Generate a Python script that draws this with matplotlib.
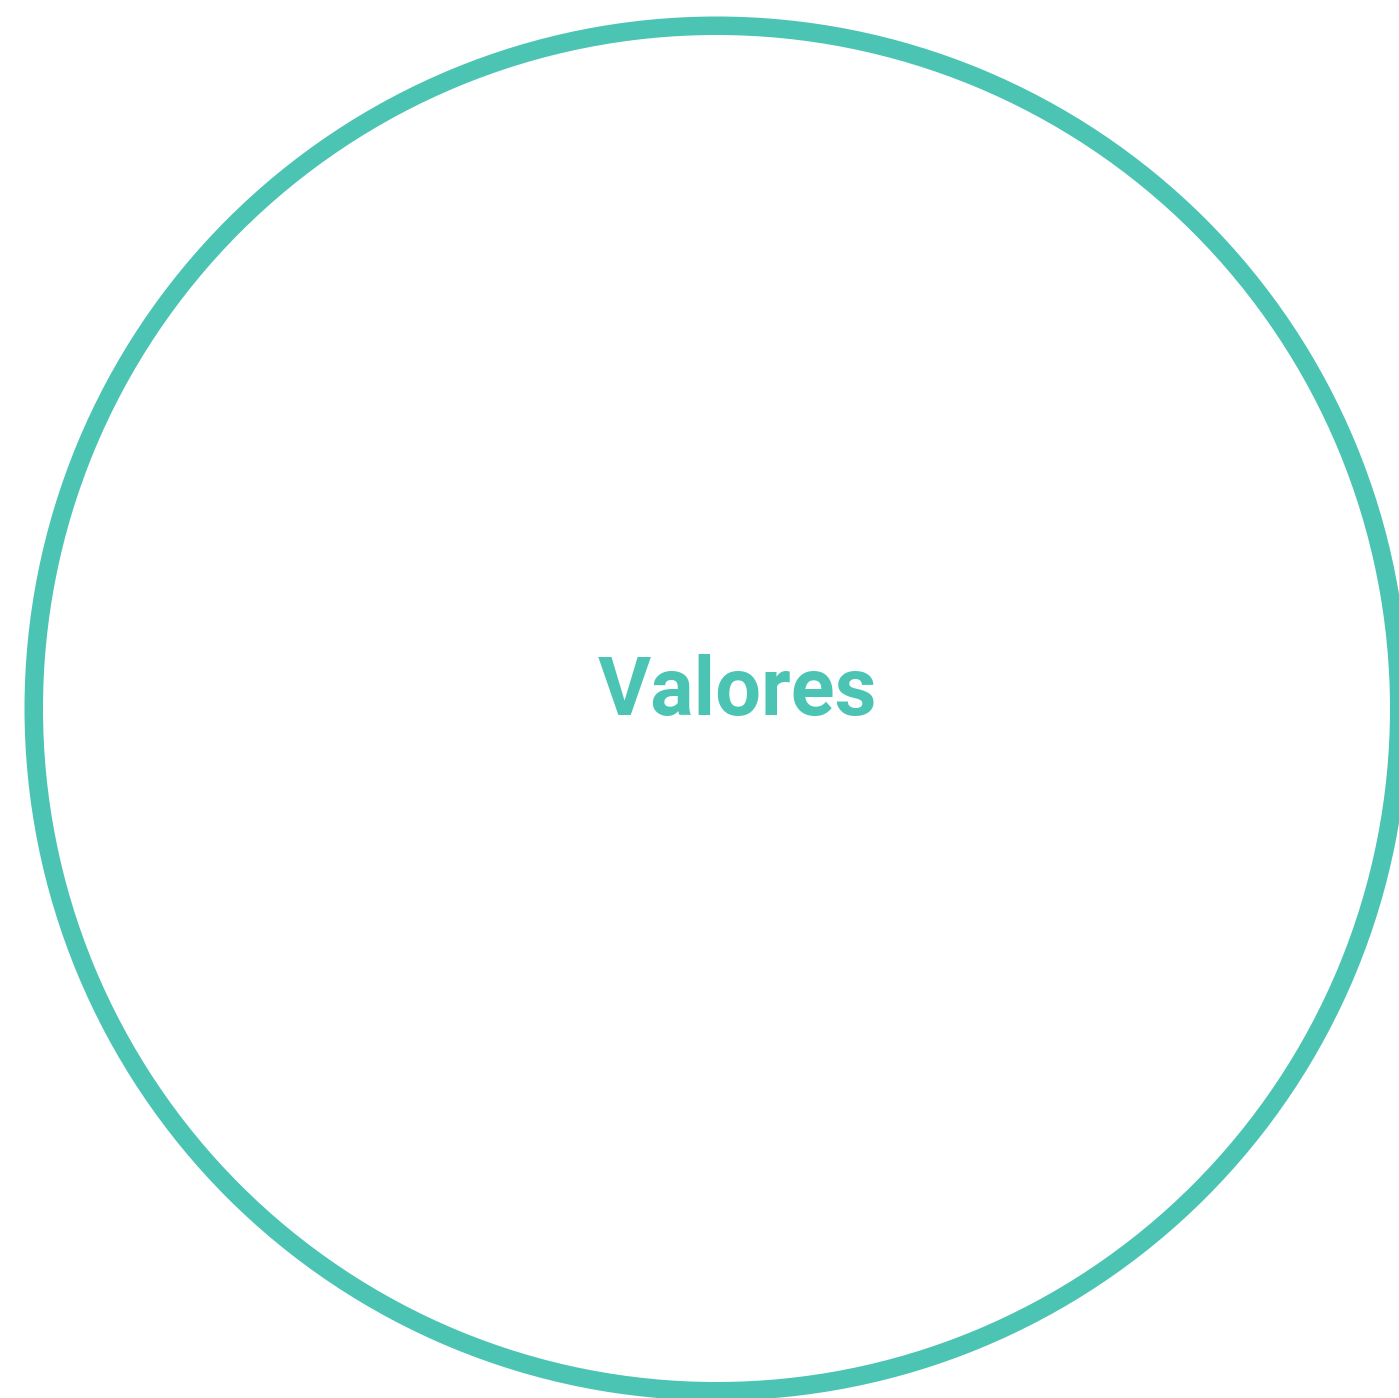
import matplotlib
matplotlib.use("Agg")
import matplotlib.pyplot as plt

labels = ["Valores"]
values = [1]
ring_color = "#4BC4B4"

W, H, DPI = 1399, 1398, 100
fig = plt.figure(figsize=(W / DPI, H / DPI), dpi=DPI)
ax = fig.add_axes([0, 0, 1, 1])

R = 692.0
cx, cy = 716.5, 708.5  # pixel centre (from top-left)
ax.pie(values, radius=1.0, colors=[ring_color], startangle=90,
       wedgeprops=dict(width=18.5 / R, edgecolor="none"))
ax.set_xlim(-cx / R, (W - cx) / R)
ax.set_ylim(-(H - cy) / R, cy / R)
ax.set_aspect("equal")
ax.axis("off")

ax.text((737.5 - cx) / R, (cy - 715) / R, labels[0], color=ring_color,
        fontsize=58.5, fontweight="bold", family=["Roboto", "DejaVu Sans"],
        ha="center", va="baseline")

fig.savefig("out.png", dpi=DPI)
